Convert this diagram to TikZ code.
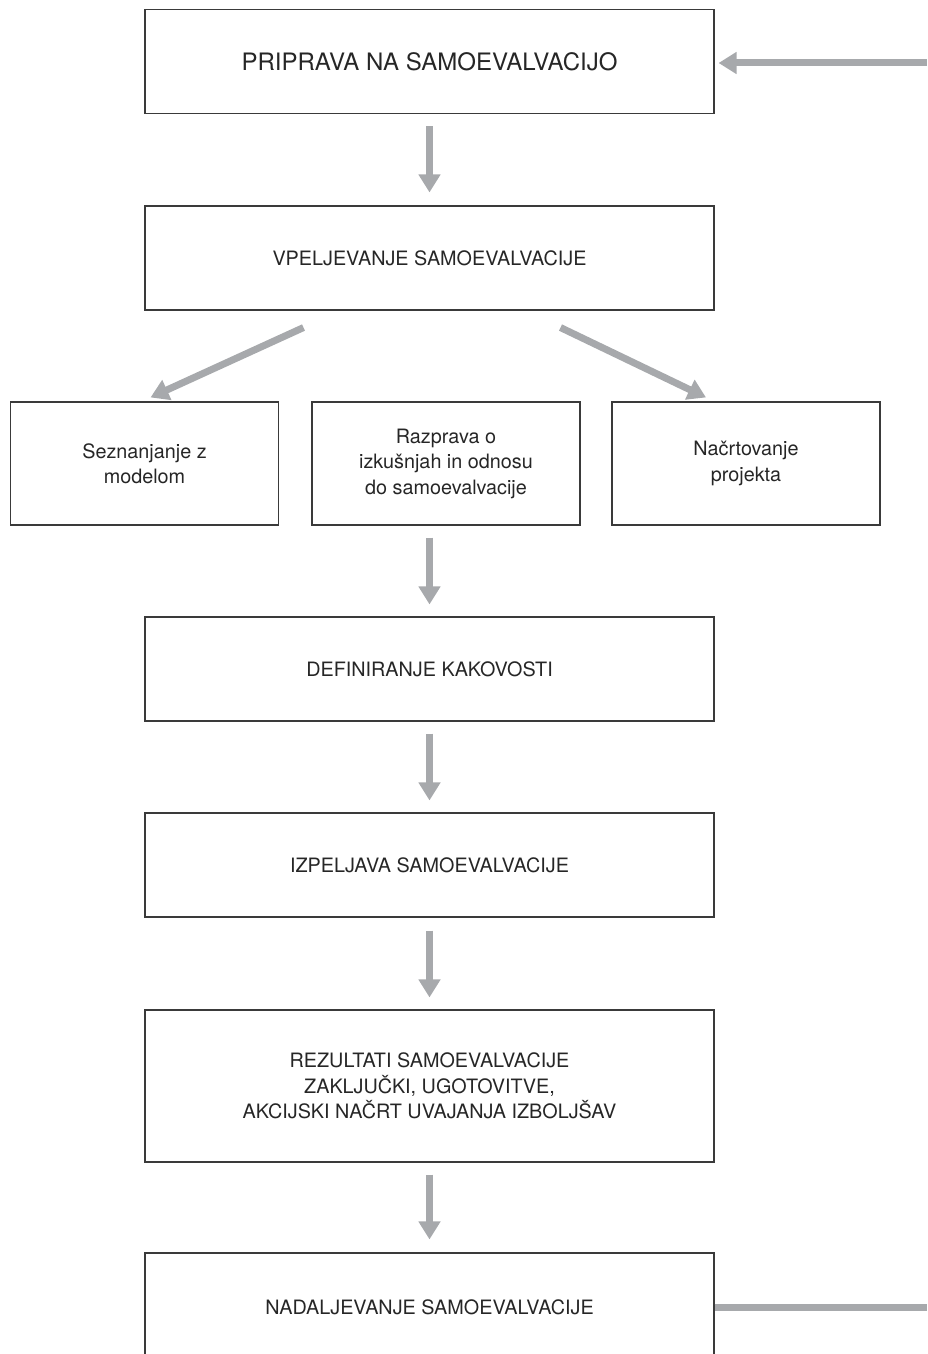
\documentclass[tikz,border=0pt]{standalone}
\usepackage{fontspec}
\setmainfont{TeX Gyre Heros}
\usetikzlibrary{arrows.meta}
\definecolor{arrowgray}{HTML}{A7A9AC}
\definecolor{framegray}{HTML}{3A3A3A}
\definecolor{textgray}{HTML}{262626}
\tikzset{
  stepbox/.style={draw=framegray, line width=1.1pt, rectangle, align=center,
    text=textgray, inner sep=0pt, font=\fontsize{19.8}{25.5}\selectfont},
  widebox/.style={stepbox, minimum width=569pt, minimum height=104pt},
  smallbox/.style={stepbox, minimum width=268pt, minimum height=123pt},
  flowarrow/.style={draw=arrowgray, line width=7pt,
    -{Triangle[width=21pt,length=18pt]}, arrowgray},
  flowline/.style={draw=arrowgray, line width=7pt},
}
\begin{document}
\begin{tikzpicture}[x=1pt, y=-1pt]
  \useasboundingbox (0,0) rectangle (927,1354);
  \clip (0,0) rectangle (927,1354);

  % main column of steps
  \node[widebox, font=\fontsize{24}{30}\selectfont] (prip) at (429.5,61.5) {PRIPRAVA NA SAMOEVALVACIJO};
  \node[widebox] (vpel) at (429.5,258) {VPELJEVANJE SAMOEVALVACIJE};

  % three sub-steps
  \node[smallbox] (sez) at (144.5,463.5) {Seznanjanje z\\modelom};
  \node[smallbox] (raz) at (446,463.5) {Razprava o\\izkušnjah in odnosu\\do samoevalvacije};
  \node[smallbox] (nac) at (746,463.5) {Načrtovanje\\projekta};

  \node[widebox] (def) at (429.5,669) {DEFINIRANJE KAKOVOSTI};
  \node[widebox] (izp) at (429.5,865) {IZPELJAVA SAMOEVALVACIJE};
  \node[widebox, minimum height=152pt] (rez) at (429.5,1086)
    {REZULTATI SAMOEVALVACIJE\\ZAKLJUČKI, UGOTOVITVE,\\AKCIJSKI NAČRT UVAJANJA IZBOLJŠAV};
  \node[widebox, minimum height=108pt] (nad) at (429.5,1307) {NADALJEVANJE SAMOEVALVACIJE};

  % loop ends at the right margin
  \coordinate (loopin) at (927,63);
  \coordinate (loopout) at (927,1307);

  % connectors (shifts are in page units: negative yshift points down)
  \draw[flowarrow, shorten <=12pt, shorten >=13pt] (prip.south) -- (vpel.north);
  \draw[flowarrow] ([xshift=-126pt,yshift=-17pt]vpel.south) -- ([xshift=6pt,yshift=4pt]sez.north);
  \draw[flowarrow] ([xshift=131pt,yshift=-17pt]vpel.south) -- ([xshift=-40pt,yshift=4pt]nac.north);
  \draw[flowarrow] ([xshift=-16.5pt,yshift=-12pt]raz.south) -- ([yshift=12pt]def.north);
  \draw[flowarrow, shorten <=12pt, shorten >=12pt] (def.south) -- (izp.north);
  \draw[flowarrow, shorten <=13pt, shorten >=12pt] (izp.south) -- (rez.north);
  \draw[flowarrow, shorten <=12pt, shorten >=13pt] (rez.south) -- (nad.north);
  \draw[flowarrow, shorten >=4pt] (loopin) -- (prip.east |- loopin);
  \draw[flowline] (nad.east) -- (loopout);
\end{tikzpicture}
\end{document}
